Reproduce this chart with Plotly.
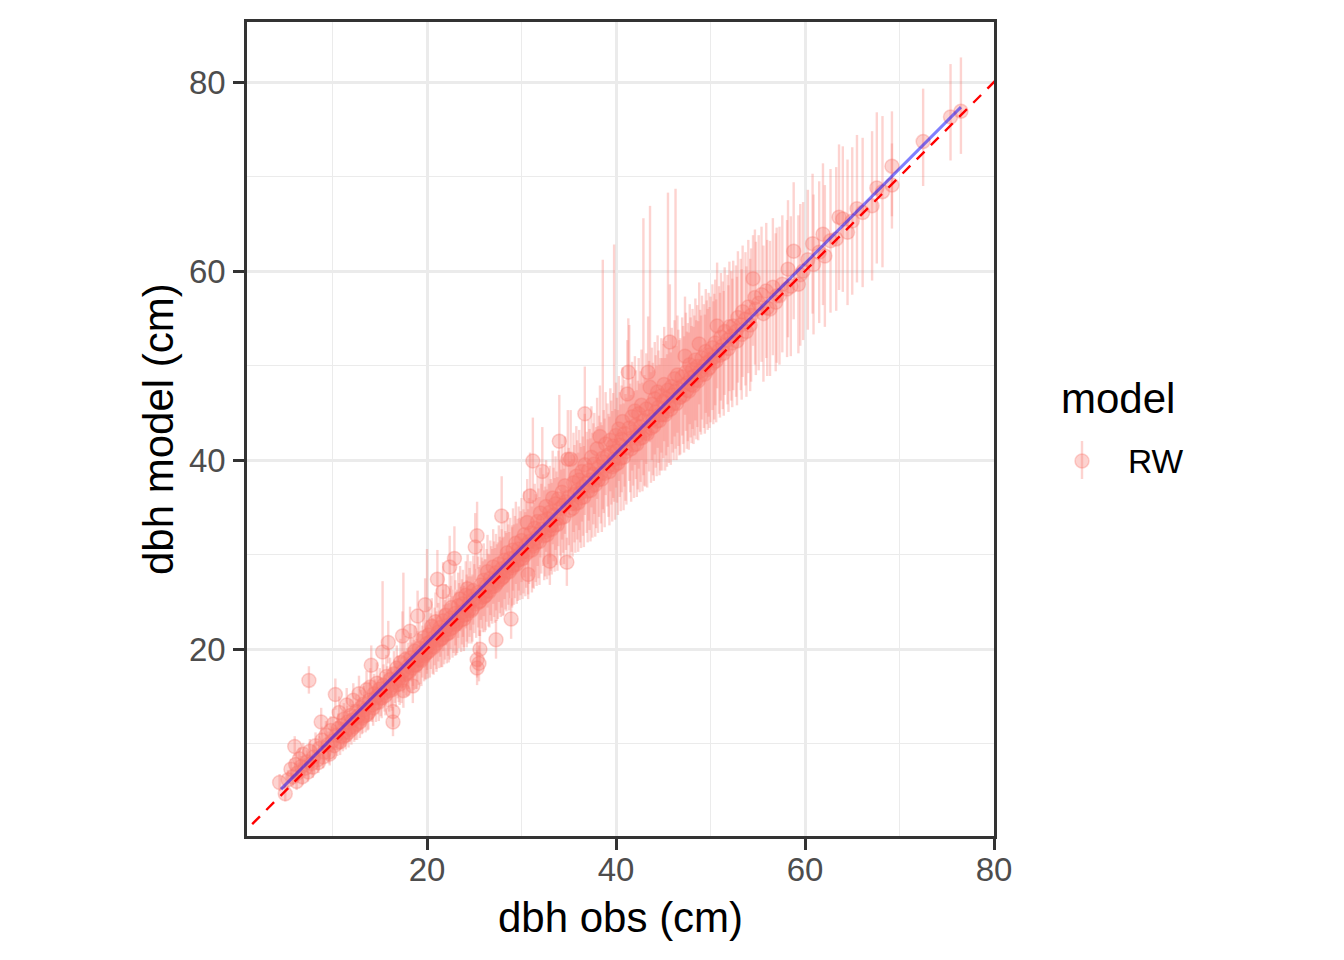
import numpy as np
import plotly.graph_objects as go

# ---- data ----
dbh_obs = [
4.4,5.0,5.3,5.6,5.8,6.0,6.1,6.3,6.5,6.7,6.9,7.1,7.3,7.5,7.6,7.8,8.0,8.2,8.4,8.6,8.8,8.9,9.1,9.3,9.5,9.7,9.8,
10.0,10.1,10.3,10.4,10.6,10.7,10.9,11.0,11.2,11.3,11.5,11.6,11.8,11.9,12.1,12.2,12.4,12.5,12.7,12.8,13.0,13.1,13.3,13.4,13.6,13.7,13.9,14.0,14.1,14.2,14.4,14.5,14.7,14.8,15.0,
15.1,15.3,15.4,15.5,15.7,15.8,15.9,16.1,16.2,16.4,16.4,16.5,16.6,16.8,16.9,17.1,17.2,17.4,17.5,17.5,17.7,17.8,18.0,18.2,18.3,18.5,18.5,18.7,18.8,19.0,19.0,19.2,19.3,19.5,19.6,19.8,19.8,20.0,20.0,
20.1,20.2,20.4,20.5,20.6,20.8,20.9,21.0,21.1,21.2,21.4,21.5,21.7,21.7,21.9,22.0,22.2,22.3,22.4,22.5,22.6,22.8,22.9,23.0,23.1,23.3,23.4,23.5,23.7,23.8,23.9,24.1,24.2,24.3,24.5,24.6,24.7,24.9,25.0,25.1,25.3,25.3,25.3,25.5,25.6,25.4,
25.6,25.7,25.8,26.0,26.1,26.3,26.4,26.5,26.7,26.8,27.0,27.1,27.3,27.3,27.4,27.6,27.7,27.9,27.9,28.0,28.2,28.3,28.5,28.6,28.8,28.9,29.0,29.1,29.3,29.4,29.6,29.7,29.9,30.0,30.2,30.3,30.5,30.7,30.6,30.8,
30.9,31.0,31.2,31.2,31.4,31.5,31.7,31.8,32.0,32.1,32.2,32.3,32.5,32.6,32.8,33.0,33.0,33.1,33.3,33.4,33.6,33.7,33.9,34.0,34.1,34.3,34.4,34.6,34.7,34.8,34.9,35.0,35.2,35.3,35.5,35.6,35.8,35.9,36.1,36.2,36.4,36.5,36.7,36.7,36.9,37.1,37.2,37.4,37.6,37.7,37.9,38.0,38.2,38.3,38.4,38.6,38.7,38.9,39.1,39.2,39.4,39.5,39.7,39.8,40.0,
40.1,40.3,40.4,40.6,40.7,40.9,41.0,41.2,41.3,41.4,41.5,41.7,41.8,42.0,42.1,42.3,42.4,42.6,42.7,42.9,43.0,43.2,43.4,43.5,43.6,43.8,43.9,44.1,44.2,44.4,44.5,44.7,44.8,45.0,45.1,45.3,45.5,45.6,45.7,45.9,46.0,46.2,46.3,46.5,46.6,46.8,47.0,47.1,47.3,47.4,47.6,47.8,47.9,48.1,48.3,48.4,48.6,48.8,48.9,49.1,49.3,49.5,49.6,49.8,50.0,
50.2,50.4,50.5,50.7,50.9,51.1,51.3,51.5,51.8,52.0,52.2,52.4,52.7,52.9,53.2,53.4,53.7,54.0,54.3,54.5,54.7,54.8,55.1,55.4,55.9,56.3,56.6,57.0,57.6,58.1,
58.2,58.8,59.3,59.8,60.3,60.8,60.9,61.5,61.9,62.1,62.7,63.3,63.6,64.0,64.5,65.0,65.5,66.1,67.1,67.6,68.2,69.2,69.2,72.5,75.4,76.5,
6.2,6.8,7.4,7.9,8.5,9.0,9.6,
10.2,10.5,10.8,11.1,11.4,11.7,12.0,12.3,12.6,12.9,13.2,13.5,13.8,14.3,14.6,14.9,15.2,15.6,16.0,16.3,16.7,17.0,17.3,17.6,17.9,18.1,18.4,18.6,18.9,19.1,19.4,19.7,19.9,
20.3,20.7,21.0,21.3,21.6,21.8,22.1,22.4,22.7,23.0,23.2,23.6,23.9,24.2,24.4,24.8,25.2,25.5,25.9,26.2,26.6,26.9,27.2,27.5,27.8,28.1,28.4,28.7,29.0,29.2,29.5,29.8,30.1,
30.4,30.7,31.1,31.3,31.6,31.9,32.4,32.7,32.9,33.2,33.5,33.8,34.2,34.5,35.1,35.4,35.7,36.0,36.3,36.6,37.0,37.3,37.5,37.8,38.1,38.5,38.8,39.3,39.6,39.9,
40.2,40.5,40.8,41.1,41.6,41.9,42.2,42.5,42.8,43.1,43.3,43.7,44.0,44.3,44.6,44.9,45.2,45.4,45.8,46.1,46.4,46.7,47.2,47.5,47.7,48.0,48.2,48.5,48.7,49.0,49.4,49.7,49.9,
50.3,50.6,51.0,51.4,51.9,52.3,52.8,53.3,53.8,54.2,55.6,56.0,56.9,57.3,58.5,59.5,
]
dbh_model = [
5.9,4.7,6.2,7.3,6.5,9.7,7.8,6.9,8.4,7.6,8.9,7.4,8.1,16.7,9.2,7.9,8.6,9.8,8.3,9.5,12.3,10.4,9.1,10.9,9.9,8.9,11.4,
10.3,12.1,15.2,10.9,11.6,13.3,10.8,11.9,12.6,11.2,14.1,12.3,11.7,13.0,12.5,14.6,12.0,13.4,12.9,15.3,13.8,12.7,14.2,13.6,15.7,13.1,14.6,16.0,18.3,14.1,15.3,14.8,16.4,15.1,15.8,
14.9,19.7,16.2,15.4,17.1,16.0,20.7,16.8,15.9,13.4,12.3,17.4,16.5,18.0,17.0,16.3,18.6,21.4,15.6,17.7,18.9,17.4,18.2,21.9,19.1,16.1,18.6,19.8,18.3,23.5,19.2,20.1,18.9,19.7,21.2,24.7,19.5,20.6,20.2,
19.7,21.5,20.8,22.4,20.3,21.3,22.9,20.9,27.4,21.8,22.3,21.1,26.1,23.0,22.0,23.6,22.5,21.7,28.7,23.3,24.4,22.9,29.6,23.8,22.7,24.6,23.5,25.3,23.9,24.8,23.2,25.7,24.3,26.4,24.9,25.6,24.1,26.2,25.3,30.8,32.0,18.0,18.9,18.5,20.0,26.0,
25.1,26.8,25.9,27.3,25.6,26.7,28.2,26.2,27.5,26.9,28.7,27.3,21.0,28.1,27.0,29.0,27.8,34.1,28.5,27.6,29.4,28.3,30.2,28.9,29.6,23.2,28.8,30.5,29.7,31.2,29.4,30.6,30.1,31.5,30.3,32.1,31.0,27.9,33.4,31.4,
36.2,32.3,39.9,31.1,32.8,31.7,33.5,32.2,34.4,32.7,38.8,33.6,32.4,35.1,33.8,29.3,34.5,33.1,36.0,34.2,35.4,33.8,35.9,42.0,34.9,36.6,35.2,37.3,35.6,29.2,40.1,36.1,40.1,35.4,37.6,36.4,38.3,36.8,37.9,36.5,38.8,37.2,44.9,39.5,37.6,38.9,37.9,40.3,38.5,39.6,38.1,41.2,39.3,42.5,38.6,40.2,39.8,41.7,40.5,39.4,42.1,40.8,41.5,40.1,42.6,
41.0,43.3,41.6,42.2,44.1,42.8,41.3,47.0,49.3,43.4,42.3,44.6,43.0,45.2,43.7,42.6,44.9,43.5,45.8,44.2,43.1,45.4,49.3,44.6,47.7,45.9,44.3,46.5,45.1,47.2,45.6,44.8,46.8,46.2,48.0,46.5,47.4,45.7,52.5,47.8,46.9,48.6,47.3,49.0,47.6,46.7,48.8,47.9,51.0,49.3,48.2,50.1,48.7,49.6,48.9,50.6,49.9,52.3,49.4,50.8,49.9,51.5,50.3,51.1,50.6,
51.9,50.9,52.4,54.2,51.6,53.0,52.1,53.6,52.7,54.1,53.1,54.2,53.6,55.1,54.3,55.7,54.9,56.2,55.3,59.2,57.2,56.0,56.6,57.5,57.9,56.0,58.3,57.4,58.6,58.1,
60.2,62.1,58.6,60.0,61.2,62.9,60.7,62.0,63.9,61.6,63.2,63.4,65.7,65.5,64.1,65.3,66.6,66.2,66.9,68.8,68.4,71.1,69.1,73.7,76.3,76.9,
6.0,6.5,7.0,7.5,8.0,8.6,9.1,
9.8,10.1,10.2,10.7,10.9,11.2,11.5,11.8,12.1,12.3,12.9,13.0,13.3,13.8,14.3,14.4,14.8,15.1,15.6,15.7,16.2,16.8,16.7,17.3,17.5,17.6,18.0,18.3,18.4,18.9,18.8,19.3,19.6,
19.9,20.2,20.6,21.0,21.2,21.5,21.6,22.1,22.3,22.6,22.9,23.1,23.6,23.7,24.1,24.3,24.8,25.0,25.5,25.7,26.1,26.6,26.7,27.2,27.4,27.7,28.1,28.2,28.6,28.9,29.0,29.5,29.6,
30.0,30.3,30.5,30.9,31.3,31.4,32.0,32.1,32.6,32.7,33.1,33.2,33.9,34.0,34.7,34.9,35.4,35.5,36.0,36.1,36.7,36.8,37.3,37.4,37.9,38.0,38.6,38.8,39.3,39.5,
39.7,40.2,40.3,40.9,41.2,41.6,41.7,42.3,42.4,42.9,42.8,43.4,43.6,44.1,44.2,44.8,44.8,45.2,45.4,46.0,46.0,46.6,46.9,47.4,47.3,48.0,47.9,48.5,48.4,49.0,49.1,49.6,49.8,
50.3,50.5,51.1,51.3,51.8,52.4,52.6,53.3,53.6,54.3,55.5,56.1,56.7,57.4,58.4,59.6,
]
dbh_model_lo = [
5.0,3.9,5.3,6.3,5.6,8.7,6.8,5.9,7.3,6.6,7.8,6.4,7.0,15.3,8.0,6.8,7.4,8.5,7.2,8.3,10.9,9.1,7.9,9.5,8.6,7.7,10.0,
9.0,10.6,13.6,9.5,10.1,11.8,9.4,10.4,11.0,9.7,12.4,10.7,10.2,11.4,10.9,12.9,10.4,11.7,11.2,13.5,12.0,11.0,12.4,11.8,13.8,11.4,12.7,14.1,16.3,12.3,13.3,12.9,14.4,13.1,13.8,
12.9,17.5,14.1,13.4,14.9,13.9,18.5,14.6,13.8,11.8,10.8,15.1,14.3,15.7,14.8,14.1,16.2,19.0,13.8,15.4,16.5,15.1,15.8,19.4,16.6,14.3,16.1,17.2,15.8,20.9,16.6,17.5,16.3,17.0,18.5,22.0,16.8,17.8,17.4,
16.9,18.6,17.9,19.5,17.4,18.3,19.9,17.9,24.4,18.7,19.2,18.1,23.1,19.8,18.9,20.4,19.3,18.6,25.5,20.0,21.1,19.6,26.3,20.4,19.4,21.2,20.1,21.9,20.5,21.3,19.8,22.2,20.8,22.9,21.3,22.0,20.6,22.6,21.7,27.3,28.5,16.2,17.0,16.6,18.1,22.3,
21.4,23.1,22.2,23.5,21.8,22.9,24.4,22.4,23.6,23.0,24.8,23.4,19.0,24.1,23.0,25.0,23.8,30.0,24.4,23.5,25.3,24.2,26.0,24.7,25.4,21.1,24.6,26.2,25.4,26.9,25.1,26.2,25.7,27.1,25.9,27.6,26.5,25.3,28.9,26.9,
31.7,27.7,35.4,26.5,28.2,27.1,28.8,27.5,29.7,28.0,34.2,28.8,27.7,30.3,29.0,26.8,29.7,28.3,31.1,29.3,30.5,28.9,30.9,37.2,29.9,31.6,30.2,32.2,30.5,26.7,35.0,31.0,35.0,30.3,32.4,31.3,33.1,31.6,32.6,31.3,33.5,32.0,40.0,34.2,32.3,33.6,32.6,35.0,33.2,34.3,32.8,35.9,34.0,37.2,33.3,34.8,34.4,36.3,35.1,34.0,36.7,35.3,36.0,35.6,37.1,
35.5,37.8,36.1,36.6,38.5,37.2,35.7,41.4,43.7,37.8,36.6,38.9,37.3,39.5,38.0,36.9,39.1,37.7,40.0,38.4,37.3,39.6,43.5,38.8,41.9,40.0,38.4,40.6,39.2,41.3,39.7,38.9,40.8,40.2,42.0,40.5,41.4,39.7,46.4,41.7,40.8,42.5,41.2,42.9,41.5,40.6,42.6,41.7,44.8,43.1,42.0,43.8,42.4,43.3,42.6,44.2,43.5,45.9,43.0,44.3,43.4,45.0,43.8,44.6,44.0,
45.3,44.3,45.8,47.6,44.9,46.3,45.4,46.9,45.9,47.3,46.3,47.4,46.7,48.2,47.4,48.8,47.9,49.2,48.3,52.1,50.1,49.0,49.5,50.4,50.8,48.9,51.1,50.3,51.4,50.9,
53.0,54.9,51.3,52.7,53.8,55.5,53.3,54.5,56.4,54.1,55.6,55.8,58.0,57.8,56.4,57.5,58.8,58.3,59.0,60.8,60.4,65.8,64.5,69.0,71.7,72.4,
5.1,5.6,6.0,6.4,6.9,7.4,7.9,
8.4,8.7,8.8,9.2,9.4,9.6,9.9,10.2,10.4,10.6,11.1,11.2,11.5,11.9,12.3,12.4,12.7,13.0,13.4,13.5,13.9,14.4,14.3,14.9,15.0,15.1,15.4,15.7,15.8,16.2,16.1,16.6,16.8,
17.0,17.3,17.6,18.0,18.1,18.4,18.5,18.9,19.1,19.3,19.6,19.7,20.2,20.2,20.6,20.8,21.2,21.4,21.8,22.0,22.3,22.7,22.8,23.2,23.4,23.6,24.0,24.1,24.4,24.7,24.8,25.2,25.3,
25.6,25.8,26.0,26.4,26.7,26.8,27.3,27.4,27.8,27.9,28.2,28.3,28.9,29.0,29.6,29.8,30.2,30.3,30.7,30.8,31.3,31.4,31.8,31.9,32.3,32.4,32.9,33.1,33.5,33.7,
34.2,34.6,34.7,35.3,35.6,36.0,36.1,36.6,36.7,37.2,37.1,37.6,37.8,38.3,38.4,38.9,38.9,39.3,39.5,40.0,40.0,40.5,40.8,41.2,41.1,41.8,41.7,42.2,42.1,42.7,42.8,43.2,43.4,
43.8,44.0,44.5,44.7,45.1,45.6,45.8,46.4,46.7,47.3,48.3,48.9,49.4,50.1,51.0,52.1,
]
dbh_model_hi = [
6.8,5.6,7.2,8.4,7.5,10.8,8.9,8.0,9.6,8.7,10.1,8.5,9.3,18.2,10.5,9.1,9.9,11.2,9.5,10.8,13.8,11.8,10.4,12.4,11.3,10.2,12.9,
11.8,13.7,16.9,12.4,13.2,15.0,12.3,13.5,14.3,12.8,15.9,14.0,13.3,14.7,14.2,16.4,13.7,15.2,14.7,17.2,15.7,14.5,16.1,15.5,17.7,14.9,16.6,18.0,20.4,16.0,17.4,16.8,18.6,17.2,18.0,
17.0,27.2,18.4,17.6,19.4,18.2,23.0,19.1,18.1,15.1,13.9,19.8,18.8,20.4,19.3,18.6,21.1,24.0,17.5,28.1,21.4,19.8,20.7,24.5,21.7,18.0,21.2,22.5,20.9,26.2,21.9,22.8,21.6,22.5,24.0,27.5,22.3,30.6,23.1,
22.6,24.5,23.8,25.4,23.3,24.4,26.0,24.0,30.5,24.9,25.5,24.2,29.2,26.3,25.2,26.9,25.8,24.9,32.0,26.7,27.8,26.3,33.0,27.3,26.1,28.1,27.0,28.8,27.4,28.4,26.7,29.3,27.9,30.0,28.6,29.3,27.7,29.9,29.0,34.4,35.6,19.9,20.8,20.4,22.0,29.8,
28.9,30.6,29.7,31.2,29.5,30.6,32.1,30.1,31.5,30.9,32.7,31.4,23.1,32.2,31.1,33.1,31.9,38.3,32.7,31.8,33.6,32.5,34.5,33.2,33.9,25.4,33.1,34.9,34.1,35.6,33.8,35.1,34.6,36.0,34.8,36.7,35.6,30.6,38.0,36.0,
40.8,37.0,44.5,35.8,37.5,36.4,38.3,37.0,39.2,37.5,43.5,38.5,37.2,40.0,38.7,31.9,39.4,38.0,41.0,39.2,40.4,38.8,41.0,46.9,40.0,41.7,40.3,42.5,40.8,31.8,45.3,41.3,45.3,40.6,42.9,41.6,43.6,42.1,43.2,41.8,44.2,42.5,49.9,44.9,43.0,44.3,43.3,45.7,43.9,45.0,43.5,46.6,44.7,47.9,44.0,61.2,45.3,47.2,46.0,44.9,47.6,46.3,47.1,62.8,48.2,
46.6,48.9,47.2,47.9,49.8,48.5,47.0,52.7,55.0,54.3,48.1,50.4,48.8,51.0,49.5,48.4,50.8,49.4,51.7,65.6,49.0,51.3,55.2,50.5,66.9,51.9,50.3,52.5,51.1,53.2,51.6,50.8,52.9,52.3,54.1,52.6,68.3,51.8,58.6,54.0,53.1,54.8,68.7,55.3,53.8,52.9,55.1,54.2,57.3,55.6,54.5,56.5,55.1,56.0,55.3,57.1,56.4,58.8,55.9,57.4,56.5,58.1,56.9,57.7,57.3,
58.6,57.6,59.1,60.9,58.4,59.8,58.9,60.4,59.6,61.0,60.0,61.1,60.6,62.1,61.3,62.7,62.0,63.3,62.4,63.8,64.4,63.1,63.8,64.7,65.1,63.2,65.6,64.6,65.9,65.4,
67.5,69.4,65.9,67.3,68.6,70.3,68.1,69.5,71.4,69.1,70.8,71.0,73.4,73.2,71.8,73.1,74.4,74.1,74.8,76.8,76.4,76.9,73.5,79.3,81.9,82.6,
6.9,7.5,8.1,8.6,9.2,9.9,10.4,
11.2,11.6,11.7,12.3,12.5,12.9,13.2,13.5,13.9,14.1,14.8,14.9,15.2,15.8,16.4,16.5,17.0,17.3,17.9,18.0,18.6,19.3,19.2,19.8,20.1,20.2,20.7,21.0,21.1,21.7,21.6,22.1,22.5,
22.9,23.2,23.7,24.1,24.3,24.7,24.8,25.4,25.6,26.0,26.3,26.6,27.1,27.3,27.7,27.9,28.5,28.7,29.3,29.5,30.0,30.6,30.7,31.3,31.5,31.9,32.3,32.4,32.9,33.2,33.3,33.9,34.0,
34.5,34.8,35.1,35.5,36.0,36.1,36.8,36.9,37.5,37.6,38.1,38.2,39.0,39.1,39.9,40.1,40.7,40.8,41.4,41.5,42.2,42.3,42.9,43.0,43.6,43.7,44.4,44.6,45.2,45.4,
45.3,45.9,46.0,46.6,46.9,47.3,47.4,48.1,48.2,48.7,48.6,49.3,49.5,50.0,50.1,50.8,50.8,51.2,51.4,52.1,52.1,52.7,53.1,53.6,53.5,54.2,54.1,54.8,54.7,55.3,55.4,56.0,56.2,
56.8,57.0,57.7,57.9,58.5,59.2,59.4,60.2,60.5,61.3,62.7,63.3,64.0,64.7,65.8,67.1,
]
# fitted regression line (geom_smooth, method = lm)
fit_line_x = [4.55, 76.5]
fit_line_y = [5.2, 77.35]

series_name = "RW"
legend_title = "model"
x_title = "dbh obs (cm)"
y_title = "dbh model (cm)"
x_range = [0.95, 80.0]
y_range = [0.24, 86.35]
tick_vals = [20, 40, 60, 80]
identity_line = [0, 90]

obs = np.array(dbh_obs)
mod = np.array(dbh_model)
lo = np.array(dbh_model_lo)
hi = np.array(dbh_model_hi)
n = min(len(obs), len(mod), len(lo), len(hi))
obs, mod, lo, hi = obs[:n], mod[:n], lo[:n], hi[:n]

RED = "248,118,109"
ALPHA = 0.32
fig = go.Figure()

fig.add_trace(go.Scatter(
    x=obs, y=mod, mode="markers", name=series_name, showlegend=False,
    marker=dict(size=14, color=f"rgba({RED},{ALPHA})",
                line=dict(width=1.5, color=f"rgba({RED},{ALPHA})")),
    error_y=dict(type="data", symmetric=False, array=hi - mod, arrayminus=mod - lo,
                 width=0, thickness=2.4, color=f"rgba({RED},{ALPHA})"),
))

fig.add_trace(go.Scatter(
    x=identity_line, y=identity_line, mode="lines", showlegend=False,
    line=dict(color="#FF0000", width=2.4, dash="11px,9px"), hoverinfo="skip"))

fig.add_trace(go.Scatter(
    x=fit_line_x, y=fit_line_y, mode="lines", showlegend=False,
    line=dict(color="rgba(0,0,255,0.5)", width=3), hoverinfo="skip"))

FONT = "Liberation Sans, Arial, Helvetica, sans-serif"
axis_common = dict(
    showgrid=True, gridcolor="#EBEBEB", gridwidth=2.8,
    minor=dict(showgrid=True, gridcolor="#EBEBEB", gridwidth=1.4, dtick=10, tick0=0),
    zeroline=False, showline=True, mirror=True, linecolor="#333333", linewidth=2.6,
    ticks="outside", ticklen=11, tickwidth=2.6, tickcolor="#333333",
    tickvals=tick_vals, tickfont=dict(family=FONT, size=33, color="#4D4D4D"),
)
fig.update_xaxes(range=x_range, **axis_common, ticklabelstandoff=-8)
fig.update_yaxes(range=y_range, **axis_common, ticklabelstandoff=1)

# plot area in pixels: x 247..994, y 22..836
L, R, T, B = 247, 350, 22, 124
PW, PH = 1344 - L - R, 960 - T - B
def px(xp):
    return (xp - L) / PW
def py(yp):
    return (960 - B - yp) / PH

fig.update_layout(
    width=1344, height=960,
    margin=dict(l=L, r=R, t=T, b=B, pad=0),
    paper_bgcolor="white", plot_bgcolor="white",
    showlegend=False,
    font=dict(family=FONT),
    annotations=[
        dict(text=x_title, xref="paper", yref="paper", x=0.5, y=py(917),
             xanchor="center", yanchor="middle", showarrow=False,
             font=dict(family=FONT, size=42, color="black")),
        dict(text=y_title, xref="paper", yref="paper", x=px(158), y=0.5,
             xanchor="center", yanchor="middle", showarrow=False, textangle=-90,
             font=dict(family=FONT, size=42, color="black")),
        dict(text=legend_title, xref="paper", yref="paper", x=px(1059), y=py(398),
             xanchor="left", yanchor="middle", showarrow=False,
             font=dict(family=FONT, size=42, color="black")),
        dict(text=series_name, xref="paper", yref="paper", x=px(1126), y=py(461),
             xanchor="left", yanchor="middle", showarrow=False,
             font=dict(family=FONT, size=33.5, color="black")),
    ],
    shapes=[
        dict(type="line", xref="paper", yref="paper", x0=px(1082), x1=px(1082),
             y0=py(441), y1=py(479), line=dict(color=f"rgba({RED},{ALPHA})", width=2.4)),
        dict(type="circle", xref="paper", yref="paper", x0=px(1075), x1=px(1089),
             y0=py(454), y1=py(468), fillcolor=f"rgba({RED},{ALPHA})",
             line=dict(color=f"rgba({RED},{ALPHA})", width=1.5)),
    ],
)

fig.write_html("out.html", config={"displayModeBar": False},
               post_script="document.body.style.margin='0';document.body.style.overflow='hidden';")
